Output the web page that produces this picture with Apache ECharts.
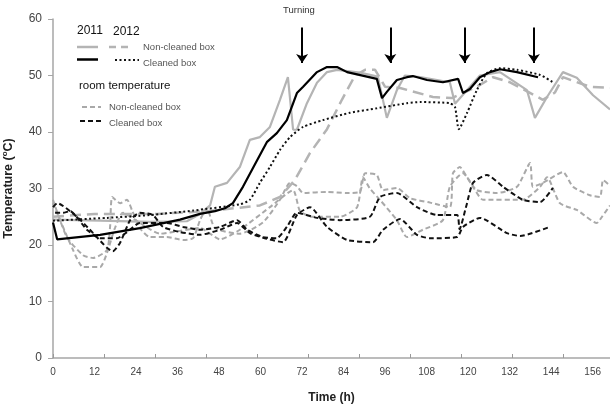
<!DOCTYPE html>
<html>
<head>
<meta charset="utf-8">
<script src="https://cdn.jsdelivr.net/npm/echarts@6/dist/echarts.min.js"></script>
<style>
  html, body { margin: 0; padding: 0; background: #fff; }
  #chart { width: 610px; height: 409px; }
</style>
</head>
<body>
<div id="chart"></div>
<script>
// [hour, temperature]
const nonCleaned2011 = [[0,24.5],[13.6,24.3],[28,24.1],[38.7,24.2],[42.5,25.5],[45.4,27],[46.8,30.3],[50.3,31],[54,33.8],[56.9,38.6],[59.8,39.1],[62.7,40.9],[65.6,45.7],[67.9,49.7],[69.4,40.4],[70.5,40.4],[73.4,45.1],[76.3,48.7],[79.2,50.6],[82.1,51],[88.7,50.5],[93.9,49.8],[96.5,42.5],[99.4,47.4],[101.7,50],[106.1,49.7],[114.7,48.8],[116.2,45],[123.4,50],[129.2,50.6],[137,47.4],[139.3,42.5],[142.8,46.2],[147.4,50.6],[151.4,49.6],[156.1,46.5],[161,44]]
const nonCleaned2012 = [[0,25],[12,25.5],[30,25.5],[45,26],[59.8,27],[65.6,28.5],[69.9,31.5],[74.3,36.3],[79.2,40.5],[83.5,45.7],[87.3,50],[90.2,51],[93.1,51],[96,48],[100.3,47.8],[109.8,46.2],[115.3,46],[122.5,48],[127.2,49.7],[132.1,48.8],[141.6,45.7],[145.1,47],[147.4,49.7],[155.2,48],[161,47.8]]
const cleaned2011 = [[0,24],[1.2,21],[13.6,21.8],[25.1,23],[36.7,24.5],[42.5,25.5],[46.8,26],[49.7,26.5],[52,27.4],[54.9,30.3],[59,35],[61.8,38.2],[64.7,39.8],[67.6,42.1],[70.5,46.9],[72.3,48],[76.3,50.6],[79.2,51.5],[82.1,51.5],[85,50.6],[93.6,49.4],[95.1,46],[96.5,47.1],[99.4,49.2],[102.3,49.7],[104,49.9],[108.1,49.2],[112.7,48.8],[117.1,49.4],[118.5,46.9],[120.5,47.6],[123.4,49.7],[126.3,50.6],[129.2,51.1],[134.1,50.6],[140.2,49.7]]
const cleaned2012 = [[0,24.3],[15.6,24.8],[28,25.3],[40.5,26.1],[54,27.2],[56.9,28],[59.8,31],[62.7,33.8],[65.6,36.8],[68.5,39.1],[72.3,40.9],[78,42.1],[85.8,43.4],[93.6,44.2],[102.3,45.1],[106.1,45.3],[114.7,45.1],[116.2,44.4],[117.3,40.5],[119.7,43.4],[122.5,47.4],[125.4,50.4],[129.2,51.3],[134.1,51],[140.8,50.1],[144.5,48.8]]

const roomNonCleanedA = [[0,28],[4,21.4],[8.7,18.2],[11.6,17.7],[15.6,19.1],[16.5,23.2],[17.1,28.5],[19.4,27.4],[21.4,28],[22.8,26.2],[25.1,23],[28,21.4],[32.9,21.4],[37.6,20.9],[40.5,21.2],[42.5,24.4],[44.5,26.5],[46.8,23],[54,22],[60.7,24],[65.6,28],[68.5,31],[70.5,30.4],[72.3,29.2],[79.2,29.4],[85,29.2],[88.7,29.4],[90.2,32.7],[93.6,32.4],[95.4,29.7],[99.4,30.1],[103.2,28.3],[109,27.5],[114.7,26.7],[115.6,32.7],[117.6,33.8],[119.7,32],[122.5,29.7],[128.3,29.2],[134.1,30.3],[137.9,34.5],[138.7,30.3],[141.6,31],[147.4,32.9],[150.3,30.3],[155.2,28.8],[158.1,28.5],[159,31.5],[161,30.5]]
const roomNonCleanedB = [[0,27.4],[5.8,19.1],[8.7,16.1],[13.6,16.1],[15.6,18.6],[17.9,23],[20.2,25.7],[25.1,23.9],[30.9,22],[36.7,22.5],[42.5,23],[48.3,21],[54,22.7],[62.7,26.7],[69.4,29.7],[71.4,26],[75.1,25],[82.9,25],[87.9,26.7],[89.6,32],[91.6,30],[94.5,28],[99.4,24.4],[102.3,21.4],[106.9,22.7],[112.7,24.4],[114.7,30.3],[118.5,32.7],[121.4,30.3],[124.3,28],[135.8,28],[140.8,30.3],[142.8,32],[146.5,27.4],[151.4,26.2],[157.2,23.9],[158.7,25],[161,27]]
const roomCleanedA = [[0,26.7],[1.2,27.4],[6.9,25],[11.6,22.1],[15.6,19.5],[17.3,18.9],[19.4,20.4],[22.3,24.4],[25.1,25.7],[28.9,25.3],[31.8,23.2],[36.7,22.3],[42.5,21.8],[48.3,22.7],[53.2,23.9],[56.9,22.1],[61.8,21.1],[66.5,20.5],[70.5,25.3],[74.3,26.7],[79.2,23.2],[85,20.9],[92.5,20.5],[95.4,22.7],[100.3,24.6],[105.2,21.8],[109,21.2],[116.8,21.4],[118.5,23.2],[123.4,24.8],[131.2,22.1],[135,21.6],[143.6,23.2]]
const roomCleanedB = [[0.6,25.7],[2.9,25.7],[4.9,26],[9.8,22.7],[13.6,21.2],[18.5,21.2],[21.4,22.3],[25.1,23.9],[32.9,23.9],[37.6,23.2],[42.5,22.7],[48.3,23.2],[53.2,24.4],[56.1,22.7],[60.7,21.4],[64.7,21.2],[67.6,23.2],[70.5,25.7],[76.3,24.8],[82.9,24.4],[91.6,25],[94.5,28.5],[99.4,29.2],[105.2,26.7],[111,25.3],[116.8,25.3],[117.5,22.8],[119.5,27],[121.4,31],[125.4,32.4],[130.1,30.3],[135.8,28],[140.8,27.6],[144.5,30.1]]

// turning events (h) and arrow span (°C)
const turningHours = [72, 97.5, 119, 139]
const arrowTop = 58.5
const arrowTip = 52.2

const xLabelMax = 156
const font = 'Liberation Sans, Arial, sans-serif'
const lightGray = '#b4b4b4'
const roomGray = '#a9a9a9'

const chart = echarts.init(document.getElementById('chart'))

function line (name, data, color, type, width, smooth) {
  return {
    name: name,
    type: 'line',
    data: data,
    xAxisIndex: 0,
    showSymbol: false,
    symbol: 'none',
    smooth: smooth || 0,
    silent: true,
    lineStyle: { color: color, width: width, type: type, cap: 'butt' }
  }
}

const option = {
  animation: false,
  backgroundColor: '#fff',
  grid: { left: 53, right: 0, top: 19, bottom: 51, outerBoundsMode: 'none', containLabel: false },
  xAxis: [
    {
      type: 'value',
      min: 0,
      max: 161,
      interval: 12,
      name: 'Time (h)',
      nameLocation: 'middle',
      nameGap: 34,
      nameTextStyle: { fontFamily: font, fontSize: 12, fontWeight: 'bold', color: '#222' },
      axisLine: { lineStyle: { color: '#a6a6a6', width: 1.5 } },
      axisTick: { show: false },
      splitLine: { show: false },
      axisLabel: {
        fontFamily: font, fontSize: 10, color: '#444', margin: 9,
        showMaxLabel: false,
        formatter: v => (v <= xLabelMax ? String(v) : '')
      }
    },
    {
      type: 'value',
      min: 0,
      max: 131,
      interval: 12,
      position: 'bottom',
      axisLine: { show: false },
      axisTick: { show: true, inside: true, length: 4, lineStyle: { color: '#999', width: 1 } },
      axisLabel: { show: false },
      splitLine: { show: false }
    }
  ],
  yAxis: {
    type: 'value',
    min: 0,
    max: 60,
    interval: 10,
    name: '{b|Temperature (}{s|o}{b|C)}',
    nameLocation: 'middle',
    nameRotate: 90,
    nameGap: 36,
    nameTextStyle: {
      rich: {
        b: { fontFamily: font, fontSize: 12.5, fontWeight: 'bold', color: '#222', lineHeight: 16 },
        s: { fontFamily: font, fontSize: 8, fontWeight: 'bold', color: '#222', verticalAlign: 'top', lineHeight: 16 }
      }
    },
    axisLine: { show: true, lineStyle: { color: '#a6a6a6', width: 1.5 } },
    axisTick: { show: true, length: 5, lineStyle: { color: '#a6a6a6' } },
    splitLine: { show: false },
    axisLabel: { fontFamily: font, fontSize: 12, color: '#444', margin: 11 }
  },
  series: [
    line('Room non-cleaned A', roomNonCleanedA, roomGray, [5, 3], 2, 0.2),
    line('Room non-cleaned B', roomNonCleanedB, roomGray, [5, 3], 2, 0.2),
    line('Non-cleaned box 2011', nonCleaned2011, lightGray, 'solid', 2.2),
    line('Non-cleaned box 2012', nonCleaned2012, lightGray, [11, 6], 2.5),
    line('Room cleaned A', roomCleanedA, '#111', [5, 3], 2, 0.2),
    line('Room cleaned B', roomCleanedB, '#111', [5, 3], 2, 0.2),
    line('Cleaned box 2012', cleaned2012, '#111', [2, 2.5], 2, 0.2),
    line('Cleaned box 2011', cleaned2011, '#000', 'solid', 2.2),
    {
      name: 'Turning',
      type: 'line',
      data: [],
      xAxisIndex: 0,
      markLine: {
        silent: true,
        animation: false,
        symbol: ['none', 'arrow'],
        symbolSize: 9,
        label: { show: false },
        lineStyle: { color: '#000', width: 2, type: 'solid' },
        data: turningHours.map(h => [{ coord: [h, arrowTop] }, { coord: [h, arrowTip] }])
      }
    }
  ],
  graphic: [
    { type: 'text', left: 283, top: 5, style: { text: 'Turning', fontFamily: font, fontSize: 9.5, fill: '#333' } },
    { type: 'text', left: 77, top: 25, style: { text: '2011', fontFamily: font, fontSize: 12, fill: '#111' } },
    { type: 'text', left: 113, top: 26, style: { text: '2012', fontFamily: font, fontSize: 12, fill: '#111' } },
    { type: 'line', shape: { x1: 77, y1: 47, x2: 98, y2: 47 }, style: { stroke: lightGray, lineWidth: 2.5 } },
    { type: 'line', shape: { x1: 109, y1: 47, x2: 132, y2: 47 }, style: { stroke: lightGray, lineWidth: 2.5, lineDash: [7, 5] } },
    { type: 'text', left: 143, top: 42, style: { text: 'Non-cleaned box', fontFamily: font, fontSize: 9.5, fill: '#555' } },
    { type: 'line', shape: { x1: 77, y1: 59.5, x2: 98, y2: 59.5 }, style: { stroke: '#000', lineWidth: 2.5 } },
    { type: 'line', shape: { x1: 115, y1: 60, x2: 139, y2: 60 }, style: { stroke: '#111', lineWidth: 2, lineDash: [2, 2.5] } },
    { type: 'text', left: 143, top: 58, style: { text: 'Cleaned box', fontFamily: font, fontSize: 9.5, fill: '#555' } },
    { type: 'text', left: 79, top: 80, style: { text: 'room temperature', fontFamily: font, fontSize: 11.5, fill: '#111' } },
    { type: 'line', shape: { x1: 82, y1: 107, x2: 101, y2: 107 }, style: { stroke: roomGray, lineWidth: 2, lineDash: [5, 3] } },
    { type: 'text', left: 109, top: 102, style: { text: 'Non-cleaned box', fontFamily: font, fontSize: 9.5, fill: '#555' } },
    { type: 'line', shape: { x1: 80, y1: 121, x2: 101, y2: 121 }, style: { stroke: '#111', lineWidth: 2.2, lineDash: [5, 3] } },
    { type: 'text', left: 109, top: 118, style: { text: 'Cleaned box', fontFamily: font, fontSize: 9.5, fill: '#555' } }
  ]
}

chart.setOption(option)
</script>
</body>
</html>
